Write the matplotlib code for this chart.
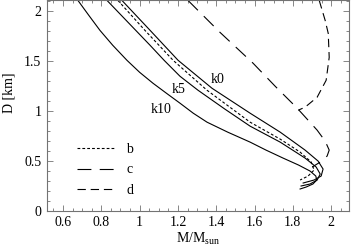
import matplotlib
matplotlib.use("Agg")
import matplotlib.pyplot as plt
from matplotlib.ticker import MultipleLocator

plt.rcParams['font.family'] = ['Liberation Serif', 'DejaVu Serif']
plt.rcParams['mathtext.fontset'] = 'custom'
plt.rcParams['mathtext.rm'] = 'Liberation Serif'
plt.rcParams['lines.scale_dashes'] = False

# curves (M/Msun, D in km)
k0_m = [0.908, 1.055, 1.201, 1.378, 1.577, 1.734, 1.864, 1.932, 1.958, 1.948, 1.911, 1.854]
k0_d = [2.11, 1.81, 1.51, 1.23, 0.98, 0.79, 0.61, 0.50, 0.42, 0.35, 0.31, 0.28]

k5_m = [0.830, 0.940, 1.055, 1.128, 1.211, 1.305, 1.446, 1.577, 1.734, 1.864, 1.922, 1.943, 1.927, 1.890, 1.843]
k5_d = [2.11, 1.89, 1.66, 1.51, 1.35, 1.21, 1.02, 0.85, 0.69, 0.53, 0.44, 0.37, 0.31, 0.27, 0.25]

k10_m = [0.678, 0.735, 0.793, 0.860, 0.934, 1.000, 1.070, 1.140, 1.211, 1.280, 1.352, 1.460,
         1.577, 1.660, 1.749, 1.830, 1.890, 1.920, 1.925, 1.905, 1.870, 1.838]
k10_d = [2.11, 1.96, 1.81, 1.66, 1.51, 1.39, 1.28, 1.18, 1.08, 0.98, 0.89, 0.79,
         0.69, 0.61, 0.53, 0.46, 0.40, 0.35, 0.31, 0.27, 0.24, 0.22]

b_m = [0.887, 1.028, 1.175, 1.352, 1.577, 1.734, 1.838, 1.896, 1.911, 1.880, 1.838]
b_d = [2.11, 1.81, 1.51, 1.21, 0.89, 0.72, 0.59, 0.49, 0.41, 0.35, 0.31]

c_m = [1.253, 1.420, 1.593, 1.708, 1.823, 1.927, 1.969, 1.990, 1.979, 1.943, 1.901]
c_d = [2.11, 1.79, 1.48, 1.25, 1.03, 0.81, 0.70, 0.61, 0.55, 0.49, 0.44]

d_m = [1.938, 1.969, 1.985, 1.990, 1.974, 1.927, 1.864, 1.828]
d_d = [2.11, 1.91, 1.78, 1.54, 1.31, 1.14, 1.04, 1.01]

fig = plt.figure(figsize=(3.53, 2.47), dpi=100)
ax = fig.add_axes([0.133, 0.146, 0.856, 0.852])

lw = 0.8
ax.plot(k0_m, k0_d, color='black', lw=lw)
ax.plot(k5_m, k5_d, color='black', lw=lw)
ax.plot(k10_m, k10_d, color='black', lw=lw)
ax.plot(b_m, b_d, color='black', lw=lw, dashes=(2, 1.5), label='b')
ax.plot(c_m, c_d, color='black', lw=lw, dashes=(10, 6), label='c')
ax.plot(d_m, d_d, color='black', lw=lw, dashes=(6, 3.5), label='d')

ax.text(1.405, 1.32, 'k0', ha='center', va='center', fontsize=10)
ax.text(1.206, 1.22, 'k5', ha='center', va='center', fontsize=10)
ax.text(1.112, 1.02, 'k10', ha='center', va='center', fontsize=10)

ax.set_xlim(0.516, 2.094)
ax.set_ylim(0, 2.11)
ax.xaxis.set_major_locator(MultipleLocator(0.2))
ax.xaxis.set_minor_locator(MultipleLocator(0.05))
ax.yaxis.set_major_locator(MultipleLocator(0.5))
ax.yaxis.set_minor_locator(MultipleLocator(0.1))
fmt = plt.FuncFormatter(lambda v, p: ('%.1f' % v).rstrip('0').rstrip('.'))
ax.xaxis.set_major_formatter(fmt)
ax.yaxis.set_major_formatter(fmt)
ax.tick_params(which='both', direction='in', top=True, right=True, labelsize=10,
               color='0.45', width=0.6)
ax.tick_params(which='major', length=4, pad=4)
ax.tick_params(which='minor', length=2)
for s in ax.spines.values():
    s.set_color('0.45')
    s.set_linewidth(0.8)

ax.set_xlabel(r'M/M$_{\rm sun}$', fontsize=10, labelpad=1)
ax.set_ylabel('D [km]', fontsize=10, labelpad=4)
ax.yaxis.set_label_coords(-0.105, 0.56)

ax.legend(loc='lower left', bbox_to_anchor=(0.099, 0.066), frameon=False,
          borderpad=0, borderaxespad=0, handlelength=2.75, handletextpad=0.8,
          labelspacing=0.55, fontsize=10)

fig.savefig('out.png', dpi=100)
